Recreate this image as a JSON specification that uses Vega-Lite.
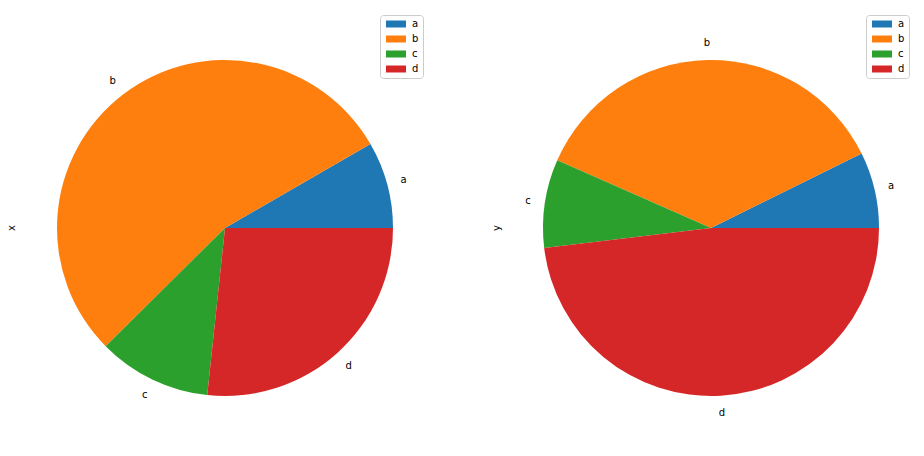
{
  "$schema": "https://vega.github.io/schema/vega-lite/v6.json",
  "padding": {"left": 7, "top": 0, "right": 0, "bottom": 0},
  "background": "white",
  "datasets": {
    "pie": [
      {"cat": "a", "x": 0.0835, "y": 0.073},
      {"cat": "b", "x": 0.541, "y": 0.361},
      {"cat": "c", "x": 0.109, "y": 0.085},
      {"cat": "d", "x": 0.267, "y": 0.481}
    ]
  },
  "data": {"name": "pie"},
  "spacing": 65,
  "resolve": {"legend": {"color": "independent"}},
  "hconcat": [
    {
      "width": 404,
      "height": 456,
      "title": {"text": "x", "orient": "left", "fontSize": 10, "fontWeight": "normal", "font": "DejaVu Sans", "offset": 6, "color": "#000"},
      "encoding": {
        "theta": {"field": "x", "type": "quantitative", "stack": true, "scale": {"range": [1.5708, -4.7124]}}
      },
      "layer": [
        {
          "mark": {"type": "arc", "outerRadius": 168},
          "encoding": {
            "color": {"field": "cat", "type": "nominal", "scale": {"range": ["#1f77b4", "#ff7f0e", "#2ca02c", "#d62728"]},
              "legend": {"title": null, "orient": "none", "legendX": 357, "legendY": 15}}
          }
        },
        {
          "mark": {"type": "text", "radius": 185, "fontSize": 10, "font": "DejaVu Sans", "color": "#000"},
          "encoding": {"detail": {"field": "cat"}, "text": {"field": "cat"}}
        }
      ]
    },
    {
      "width": 406,
      "height": 456,
      "title": {"text": "y", "orient": "left", "fontSize": 10, "fontWeight": "normal", "font": "DejaVu Sans", "offset": 6, "color": "#000"},
      "encoding": {
        "theta": {"field": "y", "type": "quantitative", "stack": true, "scale": {"range": [1.5708, -4.7124]}}
      },
      "layer": [
        {
          "mark": {"type": "arc", "outerRadius": 168},
          "encoding": {
            "color": {"field": "cat", "type": "nominal", "scale": {"range": ["#1f77b4", "#ff7f0e", "#2ca02c", "#d62728"]},
              "legend": {"title": null, "orient": "none", "legendX": 358, "legendY": 15}}
          }
        },
        {
          "mark": {"type": "text", "radius": 185, "fontSize": 10, "font": "DejaVu Sans", "color": "#000"},
          "encoding": {"detail": {"field": "cat"}, "text": {"field": "cat"}}
        }
      ]
    }
  ],
  "config": {
    "view": {"stroke": null},
    "legend": {
      "symbolType": "M-2.85,-1 L2.85,-1 L2.85,1 L-2.85,1 Z",
      "symbolSize": 49,
      "symbolStrokeWidth": 0,
      "symbolOpacity": 1,
      "symbolOffset": 7,
      "labelOffset": 11,
      "labelFontSize": 10,
      "labelFont": "DejaVu Sans",
      "labelColor": "#000",
      "rowPadding": 5,
      "padding": 4,
      "strokeColor": "#cccccc",
      "cornerRadius": 3,
      "fillColor": "white"
    }
  }
}
